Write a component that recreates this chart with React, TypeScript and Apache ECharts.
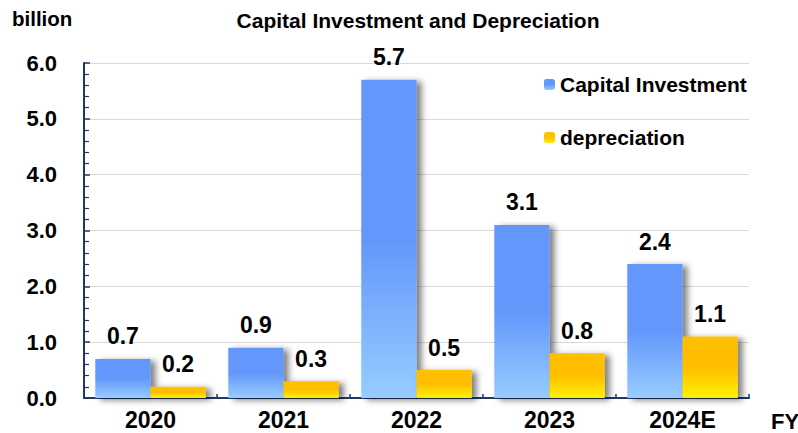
import React, { useEffect, useRef } from "react";
import * as echarts from "echarts";

const categories = ["2020", "2021", "2022", "2023", "2024E"];
const capitalInvestment = [0.7, 0.9, 5.7, 3.1, 2.4];
const depreciation = [0.2, 0.3, 0.5, 0.8, 1.1];
const seriesNames = ["Capital Investment", "depreciation"];

const FONT = "'Liberation Sans', Arial, sans-serif";

export default function App() {
  const ref = useRef<HTMLDivElement>(null);
  useEffect(() => {
    if (!ref.current) return;
    const chart = echarts.init(ref.current, null, { renderer: "svg" });
    const blueGrad = new echarts.graphic.LinearGradient(0, 0, 0, 1, [
      { offset: 0, color: "#6397FB" },
      { offset: 0.5, color: "#6397FB" },
      { offset: 1, color: "#98CCFF" },
    ]);
    const orangeGrad = new echarts.graphic.LinearGradient(0, 0, 0, 1, [
      { offset: 0, color: "#FFC000" },
      { offset: 0.5, color: "#FFBE00" },
      { offset: 1, color: "#FFF200" },
    ]);
    const labelStyle = {
      show: true,
      position: "top",
      distance: 11,
      fontSize: 23,
      fontWeight: "bold",
      fontFamily: FONT,
      color: "#000",
      formatter: (p: any) => Number(p.value).toFixed(1),
    };
    const shadow = {
      shadowColor: "rgba(0,0,0,0.5)",
      shadowBlur: 6,
      shadowOffsetX: 5,
      shadowOffsetY: 2,
    };
    chart.setOption({
      animation: false,
      backgroundColor: "#fff",
      title: {
        text: "Capital Investment and Depreciation",
        left: 413,
        textAlign: "center",
        top: 5,
        textStyle: { fontSize: 21, fontWeight: "bold", fontFamily: FONT, color: "#000" },
      },
      graphic: [
        {
          type: "text",
          left: 12,
          top: 8,
          style: { text: "billion", fontSize: 20.5, fontWeight: "bold", fontFamily: FONT, fill: "#000" },
        },
        {
          type: "text",
          left: 771,
          top: 410,
          style: { text: "FY", fontSize: 22, fontWeight: "bold", fontFamily: FONT, fill: "#000" },
        },
      ],
      legend: {
        orient: "vertical",
        left: 539,
        top: 69,
        itemWidth: 11,
        itemHeight: 11,
        itemGap: 32,
        data: seriesNames,
        textStyle: { fontSize: 21, fontWeight: "bold", fontFamily: FONT, color: "#000" },
      },
      grid: { left: 84, right: 49, top: 63, bottom: 35 },
      xAxis: {
        type: "category",
        data: categories,
        axisLine: { lineStyle: { color: "#1F3864", width: 2 } },
        axisTick: { show: true, inside: true, length: 4, lineStyle: { color: "#1F3864", width: 1.5 } },
        axisLabel: { fontSize: 23, fontWeight: "bold", fontFamily: FONT, color: "#000", margin: 10 },
      },
      yAxis: {
        type: "value",
        min: 0,
        max: 6,
        interval: 1,
        axisLine: { show: true, lineStyle: { color: "#1F3864", width: 2 } },
        axisTick: { show: true, inside: true, length: 6, lineStyle: { color: "#1F3864", width: 1.5 } },
        minorTick: { show: true, splitNumber: 5, length: 5, lineStyle: { color: "#1F3864", width: 1.2 } },
        splitLine: { show: true, lineStyle: { color: "#D9D9D9", width: 1 } },
        axisLabel: {
          fontSize: 22,
          fontWeight: "bold",
          fontFamily: FONT,
          color: "#000",
          margin: 27,
          formatter: (v: number) => v.toFixed(1),
        },
      },
      series: [
        {
          name: seriesNames[0],
          type: "bar",
          data: capitalInvestment,
          barGap: "0%",
          barCategoryGap: "17%",
          itemStyle: { color: blueGrad, ...shadow },
          label: labelStyle,
        },
        {
          name: seriesNames[1],
          type: "bar",
          data: depreciation,
          itemStyle: { color: orangeGrad, ...shadow },
          label: labelStyle,
        },
      ],
    });
    return () => chart.dispose();
  }, []);
  return <div ref={ref} style={{ width: 798, height: 433, position: "absolute", left: 0, top: 0 }} />;
}
